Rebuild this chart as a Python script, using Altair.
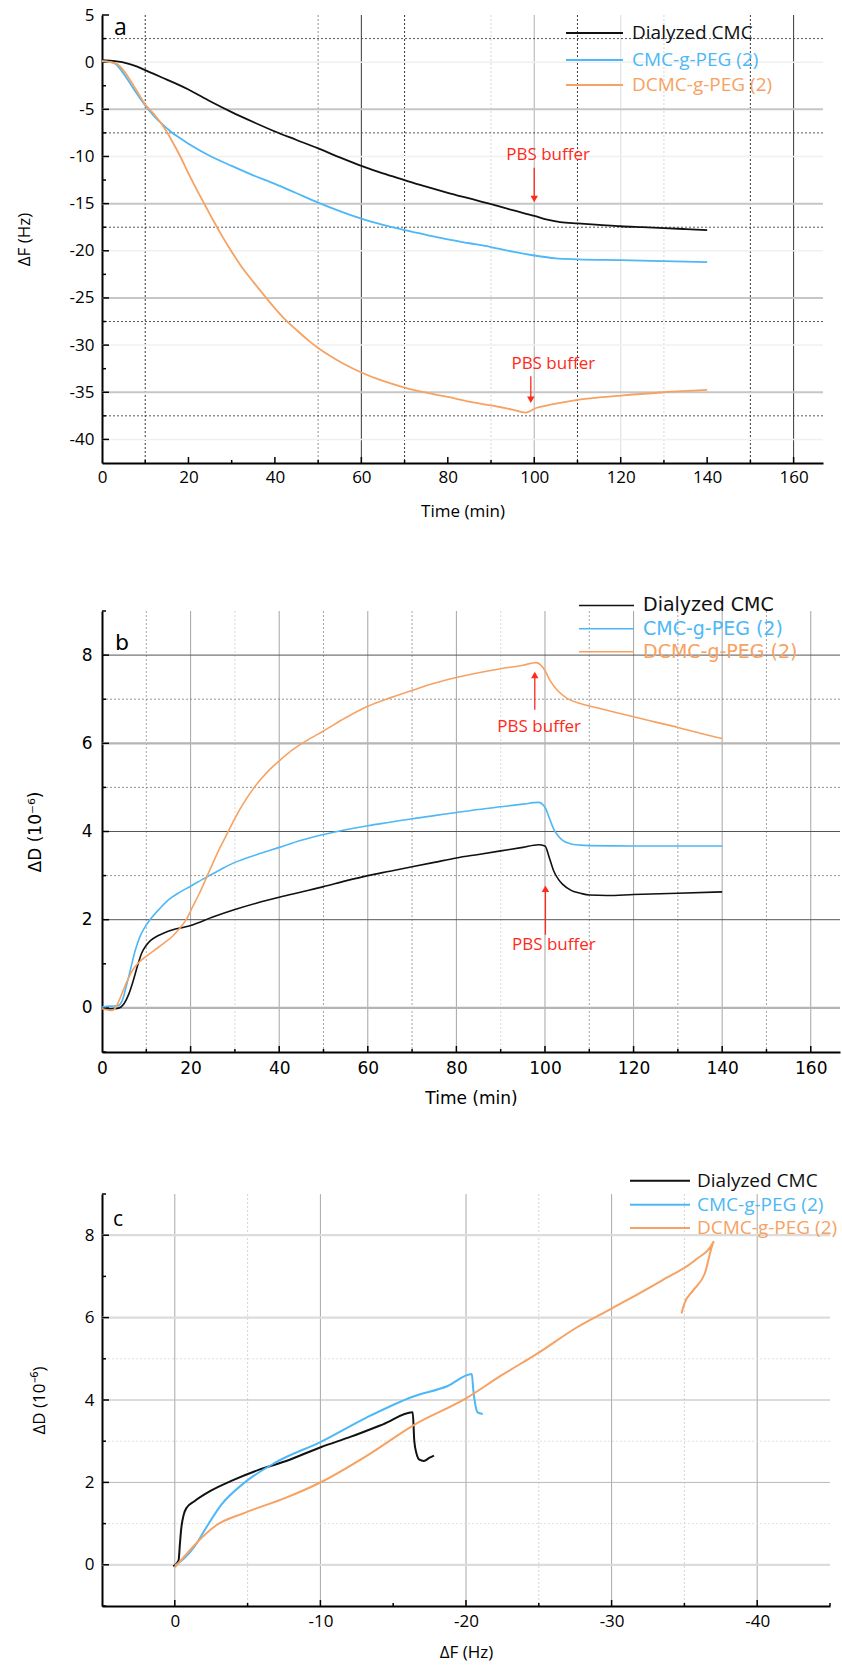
import altair as alt
import pandas as pd

SERIES = ["Dialyzed CMC", "CMC-g-PEG (2)", "DCMC-g-PEG (2)"]
COLORS = ["#111111", "#4db8f5", "#f6a263"]
RED = "#ff2a1a"

# ---------------- panel a : delta F vs time ----------------
a_t_black = [0, 3, 6, 8, 10, 12, 14, 17, 20, 25, 30, 35, 40, 45, 50, 55, 60, 65, 70, 75, 80, 85, 90, 95,
             100, 103, 106, 110, 115, 120, 125, 130, 135, 140]
a_f_black = [0.2, 0.1, -0.15, -0.45, -0.85, -1.25, -1.65, -2.25, -2.9, -4.15, -5.3, -6.35, -7.35, -8.25, -9.15,
             -10.1, -11.0, -11.8, -12.5, -13.2, -13.85, -14.45, -15.05, -15.7, -16.3, -16.7, -16.95, -17.1,
             -17.25, -17.4, -17.5, -17.6, -17.7, -17.8]
a_t_blue = [0, 2, 3, 4, 6, 8, 10, 12, 14, 16, 18, 20, 25, 30, 35, 40, 45, 50, 55, 60, 65, 70, 75, 80, 85,
            90, 95, 100, 105, 110, 120, 130, 140]
a_f_blue = [0.1, 0.0, -0.15, -0.6, -1.9, -3.3, -4.6, -5.7, -6.6, -7.4, -8.05, -8.65, -9.95, -11.0, -12.0,
            -12.9, -13.9, -14.9, -15.8, -16.6, -17.25, -17.8, -18.3, -18.8, -19.2, -19.6, -20.1, -20.5,
            -20.8, -20.9, -21.0, -21.1, -21.2]
a_t_orange = [0, 2, 3.5, 5, 6.5, 8, 10, 12, 14, 16, 18, 20, 22, 24, 26, 28, 30, 32, 35, 38, 40, 42, 45, 48,
              50, 53, 56, 60, 65, 70, 75, 80, 85, 90, 95, 98, 99, 100, 102, 105, 110, 115, 120, 130, 140]
a_f_orange = [0.1, 0.0, -0.2, -0.9, -1.9, -3.0, -4.5, -5.5, -6.7, -8.2, -9.9, -11.8, -13.6, -15.3, -17.0,
              -18.6, -20.1, -21.5, -23.3, -25.0, -26.1, -27.1, -28.4, -29.6, -30.3, -31.2, -32.0, -32.9,
              -33.8, -34.5, -35.05, -35.5, -36.0, -36.4, -36.85, -37.15, -37.0, -36.75, -36.5, -36.2,
              -35.8, -35.55, -35.35, -35.0, -34.75]
a_pbs_x = [100, 99.2]
a_pbs_top = [-11.2, -33.3]
a_pbs_head = [-14.5, -35.8]
a_pbs_text_x = [103.2, 104.4]
a_pbs_text_y = [-9.8, -32.0]

# ---------------- panel b : delta D vs time ----------------
b_t_black = [0, 2, 3.5, 5, 6, 7, 8, 9, 10, 11, 12.5, 14, 16, 18, 20, 25, 30, 35, 40, 45, 50, 55, 60, 65,
             70, 75, 80, 85, 90, 95, 98.5, 100, 101, 102, 103, 104, 106, 108, 110, 114, 120, 130, 140]
b_d_black = [-0.02, -0.02, -0.01, 0.1, 0.3, 0.6, 0.95, 1.25, 1.42, 1.53, 1.63, 1.7, 1.77, 1.82, 1.87, 2.06,
             2.23, 2.38, 2.51, 2.63, 2.75, 2.88, 3.0, 3.1, 3.2, 3.3, 3.4, 3.48, 3.56, 3.64, 3.7, 3.67, 3.4,
             3.1, 2.92, 2.8, 2.66, 2.6, 2.56, 2.55, 2.57, 2.6, 2.63]
b_t_blue = [0, 2, 3.5, 4.5, 5.5, 6.5, 7.5, 8.5, 9.5, 11, 13, 15, 17.5, 20, 23.5, 27, 30, 35, 40, 45, 50, 55,
            60, 65, 70, 75, 80, 85, 90, 95, 98.5, 100, 101, 102, 103, 104, 105.5, 108, 110, 120, 130, 140]
b_d_blue = [0.02, 0.04, 0.05, 0.15, 0.5, 0.9, 1.3, 1.6, 1.8, 2.02, 2.25, 2.45, 2.62, 2.76, 2.96, 3.15, 3.3,
            3.48, 3.64, 3.8, 3.93, 4.04, 4.13, 4.21, 4.29, 4.36, 4.43, 4.5, 4.56, 4.62, 4.66, 4.55, 4.3,
            4.05, 3.9, 3.8, 3.73, 3.69, 3.68, 3.67, 3.67, 3.67]
b_t_orange = [0, 2.2, 3, 4, 5, 6, 7, 8.5, 10, 12, 14, 16, 17.5, 19, 20.5, 22, 24, 26, 28, 30, 32, 34, 36,
              38, 40, 43, 46, 50, 55, 60, 65, 70, 75, 80, 85, 90, 95, 98, 99, 100, 101, 102, 103, 105, 108,
              112, 116, 120, 125, 130, 135, 140]
b_d_orange = [-0.02, -0.06, 0.0, 0.2, 0.45, 0.68, 0.87, 1.05, 1.17, 1.32, 1.47, 1.63, 1.8, 2.0, 2.3, 2.6,
              3.05, 3.5, 3.9, 4.3, 4.65, 4.95, 5.2, 5.42, 5.6, 5.85, 6.05, 6.28, 6.58, 6.84, 7.03, 7.2,
              7.36, 7.49, 7.6, 7.69, 7.77, 7.83, 7.78, 7.65, 7.45, 7.3, 7.18, 7.02, 6.9, 6.8, 6.7, 6.6,
              6.48, 6.36, 6.23, 6.11]
b_pbs_x = [97.7, 100.1]
b_pbs_bottom = [6.76, 1.66]
b_pbs_head = [7.55, 2.7]
b_pbs_text_x = [98.7, 102]
b_pbs_text_y = [6.38, 1.42]

# ---------------- panel c : delta D vs delta F ----------------
c_f_black = [0.1, -0.26, -0.35, -0.44, -0.6, -0.8, -1.37, -2.48, -3.96, -5.8, -7.65, -10.06, -12.1, -14.3,
             -16.34, -16.45, -16.6, -16.8, -17.1, -17.5, -17.8]
c_d_black = [-0.04, 0.11, 0.5, 0.87, 1.2, 1.38, 1.55, 1.8, 2.05, 2.31, 2.52, 2.86, 3.11, 3.41, 3.7, 3.0,
             2.7, 2.55, 2.52, 2.6, 2.65]
c_f_blue = [0, -0.63, -1.37, -2.1, -3.2, -4.7, -6.9, -10.06, -13.2, -16.34, -18.74, -20.4, -20.5, -20.67,
            -20.8, -21.15]
c_d_blue = [-0.02, 0.15, 0.45, 0.87, 1.46, 1.97, 2.48, 2.99, 3.58, 4.08, 4.34, 4.63, 4.25, 3.83, 3.7, 3.66]
c_f_orange = [0, -0.63, -1.74, -2.85, -4.7, -7.65, -10.06, -13.2, -16.5, -20.0, -22.4, -25.0, -27.6, -30.0,
              -33.5, -35.75, -37.0, -36.4, -35.6, -35.0, -34.8]
c_d_orange = [-0.06, 0.19, 0.62, 0.96, 1.25, 1.63, 2.01, 2.65, 3.41, 4.04, 4.59, 5.15, 5.76, 6.22, 6.91,
              7.4, 7.84, 7.07, 6.66, 6.34, 6.1]


def series_df(xs_list, ys_list):
    rows = []
    for name, xs, ys in zip(SERIES, xs_list, ys_list):
        for i, (x, y) in enumerate(zip(xs, ys)):
            rows.append({"series": name, "x": x, "y": y, "i": i})
    return pd.DataFrame(rows)


def rule_kwargs(color, dash, width):
    kw = dict(color=color, strokeWidth=width)
    if dash:
        kw["strokeDash"] = dash
    return kw


def panel(cfg):
    W, H = cfg["W"], cfg["H"]
    font = cfg["font"]
    xs = alt.Scale(domain=cfg["xdom"], nice=False, zero=False, reverse=cfg.get("xrev", False))
    ys = alt.Scale(domain=cfg["ydom"], nice=False, zero=False)
    xaxis = alt.Axis(values=cfg["xlabels"], labelExpr="datum.value + ''", grid=False, ticks=False,
                     tickSize=0, labelPadding=cfg["xlabpad"], labelFont=font,
                     labelFontSize=cfg["labsize"], labelColor="black", domainColor="black",
                     domainWidth=2, minExtent=cfg["xext"], maxExtent=cfg["xext"],
                     titlePadding=cfg["xtitlepad"], titleFont=font, titleFontSize=17,
                     titleFontWeight="normal", titleColor="black", labelFlush=False)
    yaxis = alt.Axis(values=cfg["ylabels"], labelExpr="datum.value + ''", grid=False, ticks=False,
                     tickSize=0, labelPadding=cfg["ylabpad"], labelFont=font,
                     labelFontSize=cfg["labsize"], labelColor="black", domainColor="black",
                     domainWidth=2, minExtent=cfg["yext"], maxExtent=cfg["yext"],
                     titlePadding=cfg["ytitlepad"], titleFont=font, titleFontSize=17,
                     titleFontWeight="normal", titleColor="black", labelFlush=False)

    def X(f):
        return alt.X(f"{f}:Q", scale=xs, axis=xaxis, title=cfg["xtitle"])

    def Y(f):
        return alt.Y(f"{f}:Q", scale=ys, axis=yaxis, title=cfg["ytitle"])

    layers = []
    for vals, color, dash, width in cfg["vgrid"]:
        layers.append(alt.Chart(pd.DataFrame({"x": vals})).mark_rule(**rule_kwargs(color, dash, width))
                      .encode(x=X("x")))
    for vals, color, dash, width in cfg["hgrid"]:
        layers.append(alt.Chart(pd.DataFrame({"y": vals})).mark_rule(**rule_kwargs(color, dash, width))
                      .encode(y=Y("y")))
    for vals, ln in cfg["yticks"]:
        layers.append(alt.Chart(pd.DataFrame({"y": vals})).mark_rule(color="black", strokeWidth=1.5)
                      .encode(y=Y("y"), x=alt.value(0), x2=alt.value(ln)))
    for vals, ln in cfg["xticks"]:
        layers.append(alt.Chart(pd.DataFrame({"x": vals})).mark_rule(color="black", strokeWidth=1.5)
                      .encode(x=X("x"), y=alt.value(H), y2=alt.value(H - ln)))
    layers.append(alt.Chart(cfg["data"]).mark_line(strokeWidth=cfg["lw"], strokeJoin="round",
                                                   interpolate="monotone").encode(
        x=X("x"), y=Y("y"),
        color=alt.Color("series:N", scale=alt.Scale(domain=SERIES, range=COLORS), legend=None),
        order="i:Q"))
    for ann in cfg.get("arrows", []):
        df = ann["df"]
        layers.append(alt.Chart(df).mark_rule(color=RED, strokeWidth=1.3)
                      .encode(x=X("x"), y=Y("y"), y2=alt.Y2("y2")))
        layers.append(alt.Chart(df).mark_point(shape=ann["shape"], filled=True, size=55, color=RED,
                                               opacity=1, strokeWidth=0)
                      .encode(x=X("x"), y=Y("yh")))
        layers.append(alt.Chart(df).mark_text(color=RED, font=cfg["afont"], fontSize=cfg["afsize"])
                      .encode(x=X("tx"), y=Y("ty"), text="label:N"))
    lg = cfg["legend"]
    for k, name in enumerate(SERIES):
        d1 = pd.DataFrame({"name": [name]})
        layers.append(alt.Chart(d1).mark_rule(color=COLORS[k], strokeWidth=lg["lw"])
                      .encode(x=alt.value(lg["x1"]), x2=alt.value(lg["x2"]), y=alt.value(lg["ys"][k])))
        layers.append(alt.Chart(d1).mark_text(color=COLORS[k], align="left", baseline="middle",
                                              font=font, fontSize=lg["size"])
                      .encode(x=alt.value(lg["tx"]), y=alt.value(lg["ys"][k]), text="name:N"))
    layers.append(alt.Chart(pd.DataFrame({"t": [cfg["letter"]]}))
                  .mark_text(align="left", baseline="alphabetic", font=font, fontSize=cfg["letsize"],
                             color="black")
                  .encode(x=alt.value(cfg["letx"]), y=alt.value(cfg["lety"]), text="t:N"))
    layers.append(alt.Chart(pd.DataFrame({"t": ["."]}))
                  .mark_text(baseline="top", fontSize=10, opacity=0)
                  .encode(x=alt.value(20), y=alt.value(cfg["spacer_y"]), text="t:N"))
    return alt.layer(*layers).properties(width=W, height=H)


def arrows(xs, y1, y2, yh, tx, ty):
    return pd.DataFrame({"x": xs, "y": y1, "y2": y2, "yh": yh, "tx": tx, "ty": ty,
                         "label": ["PBS buffer"] * len(xs)})


DK = "#222222"
cfg_a = dict(
    W=721, H=448, font="Open Sans", xdom=[0, 166.8], ydom=[-42.5, 5],
    xlabels=[0, 20, 40, 60, 80, 100, 120, 140, 160], ylabels=[5, 0, -5, -10, -15, -20, -25, -30, -35, -40],
    xtitle="Time (min)", ytitle="ΔF (Hz)", labsize=17, xlabpad=6, xext=25, xtitlepad=15,
    ylabpad=8, yext=40, ytitlepad=29,
    vgrid=[([10, 70, 110, 150], DK, [2, 2], 0.9), ([50], "#888888", [2, 2], 0.9),
           ([90, 130], "#cfcfcf", [2, 2], 0.9), ([60, 160], DK, None, 0.9),
           ([100], "#bdbdbd", None, 1.2), ([120], "#e2e2e2", None, 1.2)],
    hgrid=[([0, -10, -20, -30, -40], "#f0f0f0", None, 1.5),
           ([-5, -15, -25, -35], "#c6c6c6", None, 2),
           ([2.5, -7.5, -17.5, -27.5, -37.5], "#444444", [2, 2], 0.9)],
    yticks=[([5, 0, -5, -10, -15, -20, -25, -30, -35, -40], 7), ([2.5, -2.5, -7.5, -12.5, -17.5, -22.5,
                                                                  -27.5, -32.5, -37.5], 4)],
    xticks=[([20, 40, 60, 80, 100, 120, 140, 160], 6), ([10, 30, 50, 70, 90, 110, 130, 150], 3)],
    data=series_df([a_t_black, a_t_blue, a_t_orange], [a_f_black, a_f_blue, a_f_orange]), lw=1.8,
    arrows=[dict(df=arrows(a_pbs_x, a_pbs_top, a_pbs_head, a_pbs_head, a_pbs_text_x, a_pbs_text_y),
                 shape="triangle-down")],
    afont="Open Sans", afsize=17,
    legend=dict(x1=464, x2=521, tx=530, ys=[18, 45, 70], size=19, lw=2),
    letter="a", letx=12, lety=20, letsize=23, spacer_y=-15)

cfg_b = dict(
    W=738, H=441, font="DejaVu Sans", xdom=[0, 166.6], ydom=[-1, 9],
    xlabels=[0, 20, 40, 60, 80, 100, 120, 140, 160], ylabels=[0, 2, 4, 6, 8],
    xtitle="Time (min)", ytitle="ΔD (10⁻⁶)", labsize=17, xlabpad=8, xext=27, xtitlepad=11,
    ylabpad=10, yext=30, ytitlepad=28,
    vgrid=[([20, 40, 60, 80, 100, 120, 140, 160], "#9a9a9a", None, 0.9),
           ([10, 50, 70, 110, 130, 150], "#9a9a9a", [2, 2], 0.9),
           ([30, 90], "#d6d6d6", [2, 2], 0.9)],
    hgrid=[([0, 6], "#b5b5b5", None, 2.2), ([2, 4, 8], "#555555", None, 1),
           ([3, 5, 7], "#8a8a8a", [2, 2], 0.9)],
    yticks=[([0, 2, 4, 6, 8], 7), ([-1, 1, 3, 5, 7, 9], 4)],
    xticks=[([20, 40, 60, 80, 100, 120, 140, 160], 6), ([10, 30, 50, 70, 90, 110, 130, 150], 3)],
    data=series_df([b_t_black, b_t_blue, b_t_orange], [b_d_black, b_d_blue, b_d_orange]), lw=1.6,
    arrows=[dict(df=arrows(b_pbs_x, b_pbs_bottom, b_pbs_head, b_pbs_head, b_pbs_text_x, b_pbs_text_y),
                 shape="triangle-up")],
    afont="Open Sans", afsize=17,
    legend=dict(x1=477, x2=532, tx=541, ys=[-5.6, 17.7, 40.7], size=19, lw=1.5),
    letter="b", letx=13, lety=39, letsize=22, spacer_y=-27)

cfg_c = dict(
    W=728, H=412, font="Open Sans", xdom=[-45, 5], xrev=True, ydom=[-1, 9],
    xlabels=[0, -10, -20, -30, -40], ylabels=[0, 2, 4, 6, 8],
    xtitle="ΔF (Hz)", ytitle="ΔD (10⁻⁶)", labsize=17, xlabpad=7, xext=25, xtitlepad=13,
    ylabpad=8, yext=30, ytitlepad=24,
    vgrid=[([0, -10, -20, -30, -40], "#a8a8a8", None, 1), ([-5, -25, -35], "#cfcfcf", [2, 2], 0.9)],
    hgrid=[([0, 6, 8], "#dcdcdc", None, 2.2), ([2, 4], "#b8b8b8", None, 1),
           ([1, 3, 5], "#dedede", [2, 2], 0.9)],
    yticks=[([0, 2, 4, 6, 8], 7), ([-1, 1, 3, 5, 7, 9], 4)],
    xticks=[([0, -10, -20, -30, -40], 6), ([-5, -15, -25, -35, -45], 3)],
    data=series_df([c_f_black, c_f_blue, c_f_orange], [c_d_black, c_d_blue, c_d_orange]), lw=2,
    legend=dict(x1=528, x2=588, tx=595, ys=[-13.3, 10.7, 34], size=19, lw=2),
    letter="c", letx=11, lety=32, letsize=21, spacer_y=-23)

pa = panel(cfg_a)
pb = panel(cfg_b)
pc = panel(cfg_c)

chart = alt.concat(pa, pb, pc, columns=1, spacing=65).properties(
    align="none", bounds="full",
    padding={"left": 15, "top": 0, "right": 0, "bottom": 4},
).configure_view(stroke=None)

chart.save("out.html", embed_options={"renderer": "svg", "actions": False})
